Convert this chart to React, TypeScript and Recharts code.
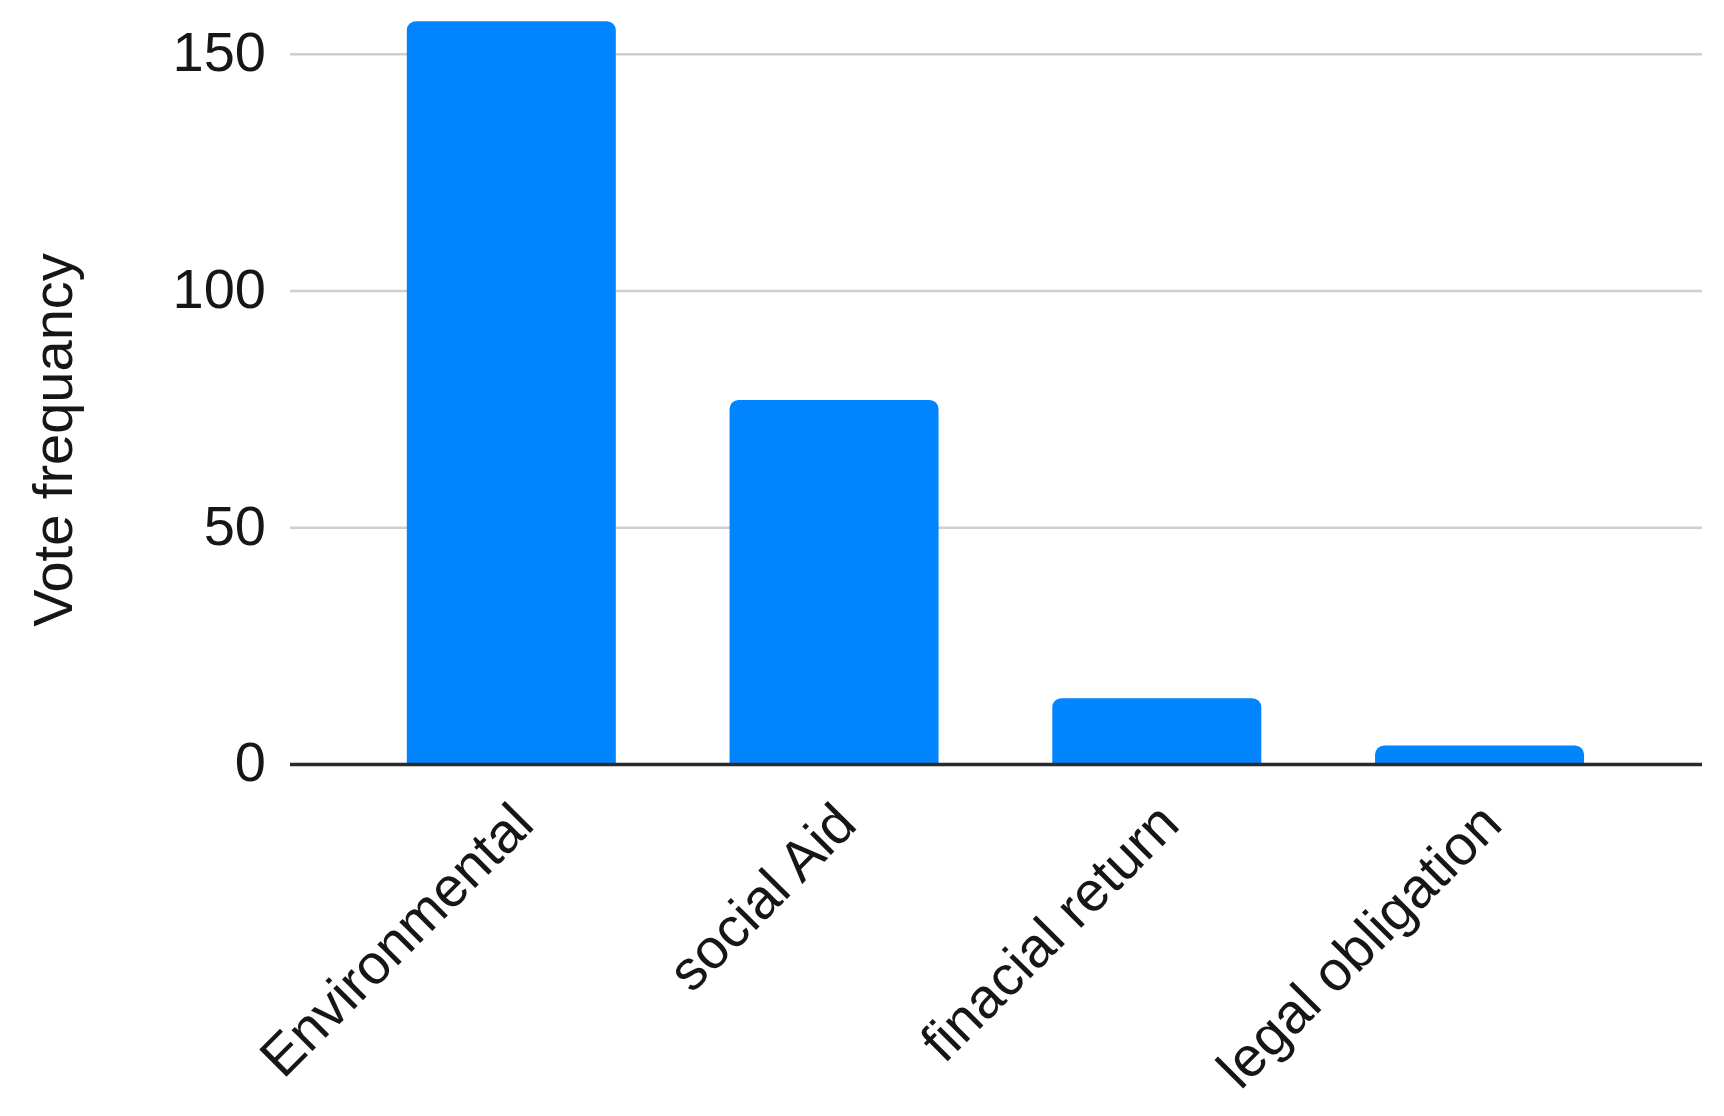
import React from "react";
import {
  BarChart,
  Bar,
  XAxis,
  YAxis,
  CartesianGrid,
  Label,
} from "recharts";

const categories = [
  "Environmental",
  "social Aid",
  "finacial return",
  "legal obligation",
];
const votes = [157, 77, 14, 4];
const yTicks = [0, 50, 100, 150];

const data = categories.map((name, i) => ({ name, votes: votes[i] }));

const FONT = '"Liberation Sans", Arimo, Arial, sans-serif';
const TEXT_COLOR = "#161616";
const BAR_COLOR = "#0085FF";

// Rotated category labels, right end of the baseline sits just right of the bar centre
const AngledTick = (props: any) => {
  const { x, y, payload } = props;
  return (
    <g transform={`translate(${x + 25},${y})`}>
      <text
        transform="rotate(-45)"
        textAnchor="end"
        fontFamily={FONT}
        fontSize={56}
        fill={TEXT_COLOR}
      >
        {payload.value}
      </text>
    </g>
  );
};

const YTitle = (props: any) => {
  const { viewBox } = props;
  const cx = viewBox.x + 72;
  const cy = 440;
  return (
    <text
      x={cx}
      y={cy}
      transform={`rotate(-90, ${cx}, ${cy})`}
      textAnchor="middle"
      fontFamily={FONT}
      fontSize={56}
      fill={TEXT_COLOR}
    >
      Vote frequancy
    </text>
  );
};

export default function App() {
  return (
    <div
      style={{
        position: "absolute",
        left: 0,
        top: 0,
        width: 1724,
        height: 1116,
        background: "#ffffff",
      }}
    >
      <BarChart
        width={1724}
        height={1116}
        data={data}
        margin={{ top: 7, right: 22, left: 0, bottom: 0 }}
        barCategoryGap="17.6%"
      >
        <CartesianGrid
          vertical={false}
          horizontalValues={yTicks}
          stroke="#cfcfcf"
          strokeWidth={2.5}
        />
        <XAxis
          dataKey="name"
          height={351.5}
          padding={{ left: 60, right: 61 }}
          tickLine={false}
          tickSize={0}
          tickMargin={62.5}
          axisLine={{ stroke: "#2b2b2b", strokeWidth: 3.5 }}
          tick={<AngledTick />}
          interval={0}
        />
        <YAxis
          width={290}
          domain={[0, 160]}
          ticks={yTicks}
          tickLine={false}
          tickSize={0}
          tickMargin={24}
          axisLine={false}
          tick={{
            fontFamily: FONT,
            fontSize: 56,
            fill: TEXT_COLOR,
            dy: -3,
          }}
        >
          <Label content={<YTitle />} />
        </YAxis>
        <Bar
          dataKey="votes"
          fill={BAR_COLOR}
          radius={[9, 9, 0, 0]}
          isAnimationActive={false}
        />
      </BarChart>
    </div>
  );
}
